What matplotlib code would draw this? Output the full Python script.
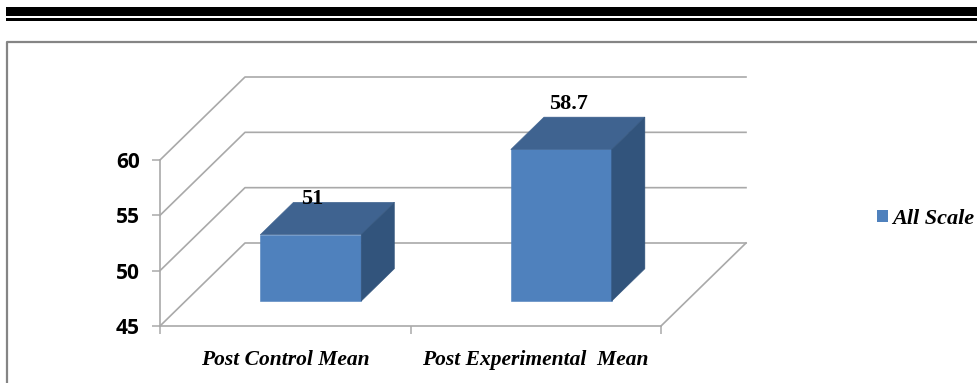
"""Pseudo-3D column chart of post-test means."""

import matplotlib

matplotlib.use("Agg")

import matplotlib.pyplot as plt
from matplotlib.patches import Patch, Polygon, Rectangle

categories = ["Post Control Mean", "Post Experimental  Mean"]
values = [51, 58.7]
value_labels = ["51", "58.7"]
series_name = "All Scale"
y_ticks = [45, 50, 55, 60]

WIDTH, HEIGHT = 977, 383
FRONT = "#4f81bd"
TOP = "#3f6390"
SIDE = "#32547c"
GRID = "#a9a9a9"
FRAME = "#858585"

# floor depth of the box, in x category units and y value units
DEPTH_X = 85 / 250.5
DEPTH_Y = 83 / (166 / 15)
BAR_WIDTH = 0.403
BAR_DEPTH = 0.39
BAR_START = 0.30

# label shift from the middle of each column's back top edge, in points
LABEL_SHIFTS = [(-22.5, -5), (-19, 2.5)]


def project(x, y, depth):
    return x + depth * DEPTH_X, y + depth * DEPTH_Y


def draw_column(axes, center, value, face_label, label_shift):
    left = center - BAR_WIDTH / 2
    right = center + BAR_WIDTH / 2
    near, far = BAR_START, BAR_START + BAR_DEPTH
    base = y_ticks[0]

    faces = (
        (FRONT, [project(left, base, near), project(right, base, near),
                 project(right, value, near), project(left, value, near)]),
        (TOP, [project(left, value, near), project(right, value, near),
               project(right, value, far), project(left, value, far)]),
        (SIDE, [project(right, base, near), project(right, base, far),
                project(right, value, far), project(right, value, near)]),
    )
    for color, points in faces:
        axes.add_patch(Polygon(points, closed=True, facecolor=color, edgecolor=color,
                               linewidth=0.4, clip_on=False, zorder=3))
    axes.annotate(face_label, project(center, value, far), xytext=label_shift,
                  textcoords="offset points", ha="center", va="bottom",
                  fontsize=16, fontweight="bold", family="Liberation Serif",
                  color="black", zorder=4, annotation_clip=False)


def draw_box(axes):
    floor, ceiling = y_ticks[0], y_ticks[-1]
    end = len(categories)
    for tick in y_ticks:
        back_left = project(0, tick, 1)
        back_right = project(end, tick, 1)
        front_left = project(0, tick, 0)
        axes.plot([front_left[0], back_left[0], back_right[0]],
                  [front_left[1], back_left[1], back_right[1]],
                  color=GRID, linewidth=1.2, clip_on=False, zorder=1)
    corner = project(end, floor, 1)
    axes.plot([end, corner[0]], [floor, corner[1]], color=GRID, linewidth=1.2,
              clip_on=False, zorder=1)
    axes.set_ylim(floor, ceiling)


figure = plt.figure(figsize=(WIDTH / 100, HEIGHT / 100), dpi=100, facecolor="white")

# page rules and the chart frame sit in pixel coordinates
page = figure.add_axes([0, 0, 1, 1])
page.set_xlim(0, WIDTH)
page.set_ylim(HEIGHT, 0)
page.set_axis_off()
page.add_patch(Rectangle((6, 7), WIDTH, 8.5, facecolor="black", edgecolor="none"))
page.add_patch(Rectangle((6, 18), WIDTH, 2.5, facecolor="black", edgecolor="none"))
page.plot([7, 7, WIDTH], [HEIGHT, 42, 42], color=FRAME, linewidth=1.6)

axes = figure.add_axes([160 / WIDTH, 1 - 326 / HEIGHT, 501 / WIDTH, 166 / HEIGHT])
axes.patch.set_alpha(0)
axes.set_xlim(0, len(categories))
draw_box(axes)

for index, (value, label, shift) in enumerate(zip(values, value_labels, LABEL_SHIFTS)):
    draw_column(axes, index + 0.5, value, label, shift)

for side in ("top", "right"):
    axes.spines[side].set_visible(False)
for side in ("left", "bottom"):
    axes.spines[side].set_color(GRID)
    axes.spines[side].set_linewidth(1.2)

axes.set_yticks(y_ticks)
axes.set_xticks(range(len(categories) + 1))
axes.set_xticklabels([])
axes.set_xticks([index + 0.5 for index in range(len(categories))], minor=True)
axes.set_xticklabels(categories, minor=True, fontsize=15.5, fontweight="bold",
                     fontstyle="italic", family="Liberation Serif")
axes.tick_params(axis="x", which="major", length=6, width=1.1, color=GRID)
axes.tick_params(axis="x", which="minor", length=0, pad=17)
axes.tick_params(axis="y", length=6, width=1.1, color=GRID, pad=8.5)
for tick_label in axes.get_yticklabels():
    tick_label.set_fontsize(15)
    tick_label.set_fontweight("bold")
    tick_label.set_family("Open Sans")

figure.legend(
    handles=[Patch(facecolor=FRONT, edgecolor="none", label=series_name)],
    loc="center left",
    bbox_to_anchor=(856.5 / WIDTH, 1 - 219 / HEIGHT),
    frameon=False,
    handlelength=0.5,
    handleheight=0.5,
    handletextpad=0.2,
    prop={"family": "Liberation Serif", "weight": "bold", "style": "italic", "size": 16},
)

figure.savefig("out.png", dpi=100)
plt.close(figure)
